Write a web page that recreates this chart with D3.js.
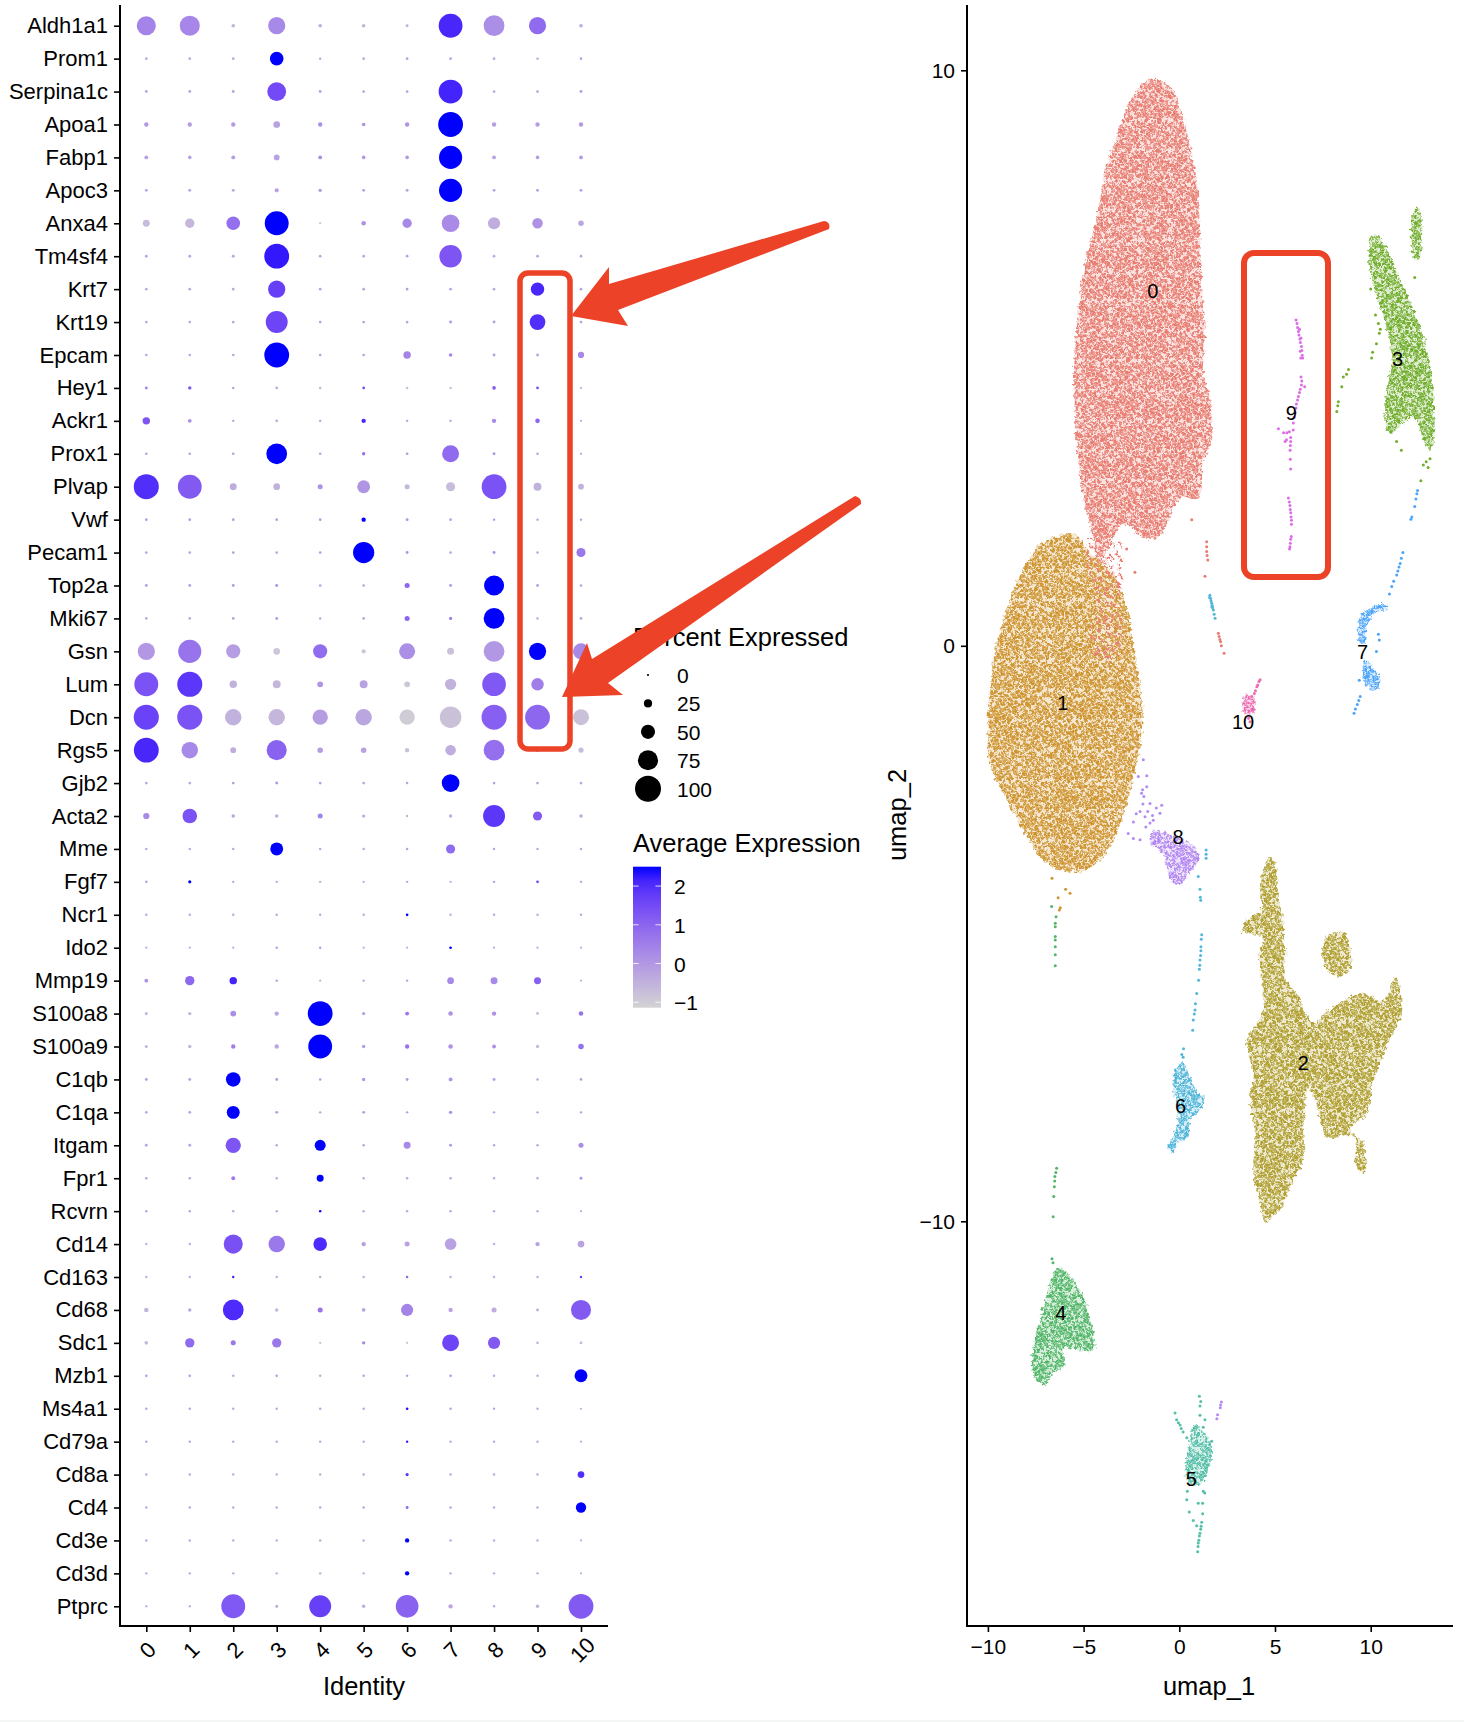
<!DOCTYPE html>
<html><head><meta charset="utf-8">
<script src="https://cdn.jsdelivr.net/npm/d3@7"></script>
<style>
html,body{margin:0;padding:0;background:#fff}
svg{display:block}
text{font-family:"Liberation Sans",Arial,sans-serif;fill:#000}
</style></head><body><div id="chart"></div>
<script>
const identities=["0","1","2","3","4","5","6","7","8","9","10"];
const genes=["Aldh1a1","Prom1","Serpina1c","Apoa1","Fabp1","Apoc3","Anxa4","Tm4sf4","Krt7","Krt19","Epcam","Hey1","Ackr1","Prox1","Plvap","Vwf","Pecam1","Top2a","Mki67","Gsn","Lum","Dcn","Rgs5","Gjb2","Acta2","Mme","Fgf7","Ncr1","Ido2","Mmp19","S100a8","S100a9","C1qb","C1qa","Itgam","Fpr1","Rcvrn","Cd14","Cd163","Cd68","Sdc1","Mzb1","Ms4a1","Cd79a","Cd8a","Cd4","Cd3e","Cd3d","Ptprc"];
const percentExpressed=[
[71,75,6,63,6,6,3,91,78,63,6],[2,2,2,48,1,2,2,2,2,1,2],[3,3,3,70,3,2,2,91,2,2,3],[9,9,9,19,9,6,9,95,9,9,9],[7,6,7,15,7,6,6,88,7,6,7],[3,3,3,8,5,3,3,88,3,3,3],[20,30,48,91,0,10,30,65,42,35,14],[3,3,3,95,2,2,2,85,2,2,2],[2,2,2,63,2,2,2,2,2,47,2],[2,2,2,83,2,2,2,3,3,57,2],[2,2,2,95,2,2,22,6,3,3,17],[3,5,1,2,1,2,1,1,6,2,0],[22,7,1,2,1,9,1,1,9,10,0],[2,2,2,78,2,5,2,62,3,1,0],[96,91,20,19,12,45,12,29,95,24,15],[2,2,2,2,2,9,3,2,1,1,1],[2,2,2,2,2,80,3,2,3,1,29],[3,3,3,3,2,2,12,3,75,3,2],[2,2,2,3,1,2,12,4,78,1,2],[63,88,50,19,50,9,58,20,78,63,58],[91,96,22,24,15,24,15,38,90,43,12],[96,96,60,60,55,60,55,81,96,95,58],[95,60,15,75,14,14,9,35,78,7,12],[2,2,2,3,2,2,1,65,2,2,2],[17,52,5,5,12,4,1,5,83,29,5],[1,1,1,45,1,1,1,29,1,1,1],[2,4,1,1,1,1,1,1,1,2,1],[1,1,1,1,1,1,2,1,1,1,1],[0,0,0,1,1,0,0,2,0,0,0],[7,30,22,1,0,1,1,19,20,20,0],[4,5,15,9,95,5,7,10,9,3,10],[4,5,9,9,91,5,9,10,7,5,14],[3,3,52,3,1,5,3,7,3,1,2],[2,3,45,3,1,3,1,5,1,1,1],[3,3,55,1,37,1,20,3,1,1,12],[2,2,7,1,20,1,1,1,1,1,3],[1,1,1,1,1,1,1,1,1,1,0],[1,1,71,60,48,9,12,40,1,9,19],[1,1,1,1,1,1,1,1,1,1,1],[10,5,78,5,12,6,42,9,12,3,75],[6,30,12,30,0,5,0,62,42,3,3],[2,2,1,2,1,1,1,2,1,1,45],[1,1,1,1,1,1,2,1,1,1,0],[1,1,1,1,1,1,1,1,1,1,0],[1,1,1,1,1,1,4,1,1,1,19],[1,1,1,1,1,1,3,1,1,1,34],[1,1,1,1,1,1,9,1,1,1,0],[1,1,1,1,1,1,9,1,1,1,0],[1,1,91,4,83,5,86,9,1,5,95]];
const averageExpression=[
[0.4,0.35,-0.5,0.3,-0.4,-0.5,-0.5,2.1,0.2,0.9,-0.4],[-0.3,-0.3,-0.3,2.5,-0.2,-0.3,-0.2,-0.2,-0.3,-0.2,-0.2],[-0.3,-0.3,-0.3,1.5,-0.2,-0.2,-0.2,2.15,-0.3,-0.2,-0.1],[0,-0.1,-0.1,-0.2,0.2,0.1,0.1,2.5,-0.1,-0.1,0],[-0.2,-0.2,-0.1,-0.2,0.2,0,0,2.5,-0.2,-0.1,-0.1],[-0.2,-0.2,-0.2,-0.2,0,-0.1,-0.1,2.5,-0.2,-0.1,-0.1],[-0.7,-0.6,0.8,2.5,-0.7,0.1,0.3,0.25,-0.4,0.1,-0.3],[-0.3,-0.3,-0.3,2.3,-0.2,-0.2,-0.2,1.3,-0.3,-0.2,-0.2],[-0.3,-0.3,-0.3,1.7,-0.2,-0.2,-0.1,-0.2,-0.3,2.1,-0.2],[-0.3,-0.3,-0.2,1.6,-0.2,-0.2,-0.2,0,-0.2,2.0,-0.2],[-0.3,-0.3,-0.3,2.5,-0.2,-0.2,0.4,0.3,-0.2,-0.3,0.3],[0.4,1.3,-0.2,-0.3,-0.5,1.5,-0.7,-0.7,1.2,1.5,-0.5],[1.3,0.1,-0.2,-0.3,-0.2,2.1,-0.2,-0.3,0.3,1.0,-0.3],[-0.2,-0.2,-0.2,2.5,-0.3,0.8,-0.1,0.9,0,-0.2,-0.3],[2.0,1.2,-0.4,-0.5,0.1,0.05,-0.6,-0.7,1.35,-0.5,-0.5],[-0.1,-0.1,-0.1,-0.1,-0.1,2.5,0,-0.1,0,-0.2,-0.2],[-0.3,-0.3,-0.1,-0.3,-0.2,2.5,0,-0.3,0.2,-0.2,0.6],[-0.2,-0.2,-0.1,0.1,-0.2,-0.2,1.0,0,2.5,-0.2,-0.2],[-0.3,-0.3,-0.1,-0.1,-0.3,-0.2,1.0,0.6,2.5,-0.3,-0.2],[0,0.7,-0.1,-0.9,0.85,-0.9,0.2,-0.8,0,2.5,0.3],[1.35,1.85,-0.5,-0.6,0.05,-0.2,-0.9,-0.5,1.25,0.5,-0.5],[1.65,1.35,-0.5,-0.6,-0.1,-0.3,-1.0,-0.8,1.1,0.95,-0.8],[2.1,0.3,-0.4,1.05,-0.1,-0.2,-0.8,-0.4,0.8,-0.3,-0.7],[-0.2,-0.3,-0.1,0,-0.1,-0.2,-0.2,2.5,-0.2,-0.2,-0.2],[0.3,1.35,-0.2,-0.4,0.4,-0.3,-0.5,-0.4,1.85,1.2,-0.3],[-0.2,-0.3,-0.3,2.5,-0.3,-0.3,-0.2,0.9,-0.2,-0.2,-0.2],[-0.3,2.5,-0.3,-0.3,-0.4,-0.4,-0.4,-0.5,-0.1,1.6,-0.3],[-0.3,-0.3,-0.3,-0.3,-0.3,-0.3,2.5,-0.4,-0.3,-0.3,-0.3],[-0.4,-0.4,-0.4,-0.1,-0.1,-0.4,-0.4,2.5,-0.4,-0.4,-0.4],[0.1,0.95,2.15,-0.1,-0.5,-0.3,-0.3,0.3,0.3,1.1,-0.5],[-0.6,-0.6,0.2,-0.3,2.5,-0.2,0.7,0.1,0.1,-0.7,0.7],[-0.6,-0.6,0.5,-0.3,2.5,-0.1,0.7,0.1,0.2,-0.7,0.8],[-0.2,-0.2,2.5,-0.1,-0.1,0,-0.1,0.1,-0.1,-0.2,-0.1],[-0.3,-0.3,2.5,-0.1,-0.3,-0.1,-0.2,0.1,-0.2,-0.2,-0.2],[-0.3,-0.3,1.3,-0.3,2.5,-0.2,0.3,0,-0.2,-0.3,0.2],[-0.3,-0.3,0.6,-0.3,2.5,-0.3,-0.3,-0.2,-0.3,-0.3,0.1],[-0.2,-0.2,-0.3,-0.3,2.5,-0.3,-0.3,-0.3,-0.3,-0.3,-0.4],[-0.5,-0.4,1.4,0.6,2.05,-0.1,-0.2,-0.2,-0.4,-0.2,-0.2],[-0.4,-0.4,2.2,-0.4,-0.4,-0.4,1.0,-0.4,-0.4,-0.4,1.6],[-0.6,-0.3,2.05,-0.5,0.7,-0.2,0.4,-0.2,-0.4,-0.4,1.2],[-0.6,0.9,0.6,0.6,-0.6,0.3,-0.7,1.6,1.2,-0.6,-0.6],[-0.2,-0.2,-0.3,-0.2,-0.3,-0.1,-0.2,-0.1,-0.3,-0.3,2.5],[-0.2,-0.2,-0.3,-0.3,-0.3,-0.2,2.4,-0.2,-0.3,-0.3,-0.4],[-0.1,-0.2,-0.3,-0.3,-0.3,-0.2,2.3,-0.3,-0.3,-0.3,-0.4],[-0.3,-0.3,-0.4,-0.4,-0.4,-0.3,1.9,-0.3,-0.3,-0.3,2.0],[-0.3,-0.2,-0.3,-0.3,-0.3,-0.2,0.9,-0.2,-0.3,-0.3,2.5],[-0.3,-0.3,-0.4,-0.4,-0.4,-0.4,2.5,-0.3,-0.4,-0.4,-0.4],[-0.3,-0.3,-0.4,-0.4,-0.4,-0.4,2.5,-0.3,-0.4,-0.4,-0.4],[-0.6,-0.5,1.25,-0.5,1.7,-0.4,1.05,-0.3,-0.3,-0.5,1.2]];
const sizeLegendValues=[0,25,50,75,100];
const colorLegendValues=[2,1,0,-1];
const umapXTicks=[-10,-5,0,5,10];
const umapYTicks=[10,0,-10];
const clusterColors=["#E87D72","#CF9531","#B0A032","#72AE2F","#53B669","#55BFA8","#52B6D9","#4EA5F9","#B48AF2","#DD6DE6","#EC6BB2"];
const region0=[[-1.27,9.85],[-0.4,9.69],[0.04,9.35],[0.47,8.82],[0.91,8.09],[1.08,7.23],[1.17,6.23],[1.34,5.37],[1.25,4.7],[1.6,4.3],[1.6,3.44],[1.25,3.24],[1.0,2.57],[0.04,2.57],[-0.66,2.11],[-1.18,1.87],[-1.97,1.91],[-2.93,2.11],[-3.62,1.77],[-4.15,1.44],[-4.67,2.11],[-5.02,2.57],[-5.28,3.17],[-5.4,3.7],[-5.5,4.83],[-5.28,5.83],[-5.02,6.5],[-4.32,7.43],[-3.79,8.36],[-3.27,8.82],[-2.75,9.35],[-2.05,9.72]];
const region0Stem=[[-3.01,1.78],[-2.93,1.09],[-3.27,0.74],[-2.93,0.33],[-3.27,-0.19],[-4.15,-0.25],[-4.67,0.22],[-4.32,0.8],[-4.84,1.37],[-4.76,1.84],[-4.06,2.07]];
const region1=[[-5.45,1.93],[-7.19,1.78],[-7.89,1.49],[-8.85,0.8],[-9.55,0.04],[-9.9,-0.71],[-10.02,-1.41],[-9.9,-2.04],[-9.11,-2.62],[-8.15,-3.2],[-6.93,-3.78],[-5.19,-3.93],[-3.97,-3.66],[-3.27,-3.26],[-2.58,-2.56],[-2.14,-1.87],[-1.91,-1.23],[-2.05,-0.71],[-2.4,0.04],[-2.75,0.68],[-3.62,1.32],[-4.67,1.61]];
const region2=[[4.7,-3.66],[5.0,-3.78],[5.18,-4.3],[5.44,-4.94],[5.53,-5.34],[5.5,-5.75],[6.14,-6.04],[7.0,-6.56],[7.7,-6.36],[9.45,-6.04],[10.66,-6.16],[11.28,-5.75],[11.57,-6.04],[11.54,-6.45],[10.84,-6.96],[10.14,-7.6],[9.8,-8.12],[8.92,-8.41],[9.62,-8.64],[9.62,-9.17],[9.27,-9.05],[9.1,-8.53],[7.7,-8.53],[7.2,-8.0],[6.75,-7.65],[6.48,-8.36],[6.48,-8.93],[5.79,-9.4],[5.26,-9.8],[4.48,-10.0],[4.13,-9.57],[3.87,-9.11],[3.96,-8.53],[3.7,-7.89],[3.87,-7.43],[3.52,-6.85],[4.39,-6.38],[4.3,-5.92],[4.2,-5.34],[4.31,-5.05],[3.35,-4.99],[3.43,-4.79],[4.22,-4.59],[4.22,-4.19]];
const region2Island=[[7.7,-5.05],[8.57,-4.99],[9.01,-5.52],[8.4,-5.75],[7.53,-5.52]];
const region3=[[10.06,7.13],[10.49,7.09],[11.54,6.36],[12.41,5.7],[13.1,4.9],[13.19,3.44],[12.93,3.44],[12.23,3.97],[11.0,3.7],[10.75,4.24],[11.1,5.03],[10.7,5.7],[10.0,6.43]];
const region3Arm=[[12.41,7.63],[12.67,7.36],[12.49,6.7],[12.23,6.76],[12.15,7.43]];
const region4=[[-6.32,-10.81],[-5.19,-11.2],[-4.5,-11.93],[-4.46,-12.25],[-6.06,-12.22],[-5.97,-12.5],[-6.59,-12.65],[-7.02,-12.87],[-7.63,-12.65],[-7.63,-12.22],[-7.11,-11.5]];
const region5=[[0.82,-13.52],[1.25,-13.66],[1.69,-13.9],[1.43,-14.39],[0.98,-14.6],[0.42,-14.51],[0.35,-14.15],[0.6,-13.73]];
const region6=[[0.12,-7.25],[0.56,-7.49],[0.91,-7.72],[1.34,-7.88],[0.99,-8.12],[0.56,-8.24],[0.47,-8.53],[-0.14,-8.67],[-0.28,-8.82],[-0.63,-8.73],[-0.4,-8.56],[-0.05,-8.24],[-0.14,-7.95],[-0.35,-7.66],[-0.22,-7.37]];
const region7Crescent=[[9.8,0.62],[10.66,0.74],[10.84,0.65],[10.14,0.54],[9.71,0.22],[9.8,0.04],[9.41,0.04],[9.31,0.27],[9.53,0.56]];
const region7Blob=[[9.71,-0.25],[10.23,-0.42],[10.53,-0.65],[10.23,-0.77],[9.76,-0.68],[9.59,-0.42]];
const region8=[[-1.36,-3.2],[-0.66,-3.26],[0.56,-3.43],[0.99,-3.61],[0.99,-3.75],[0.39,-4.01],[0.12,-4.13],[-0.4,-4.1],[-0.66,-3.84],[-0.84,-3.61],[-1.53,-3.4]];
const region10=[[3.43,-0.85],[3.9,-0.88],[3.87,-1.17],[3.35,-1.17]];
const points0=[[0.65,2.19],[-2.32,1.28],[-2.75,1.68],[1.43,1.81],[1.43,1.72],[1.43,1.64],[1.45,1.57],[1.49,1.49],[1.34,1.21],[2.04,0.22],[2.08,0.16],[2.12,0.11],[2.16,0.07],[2.2,0.0],[2.34,-0.13]];
const points1=[[-6.65,-4.04],[-5.94,-4.23],[-5.71,-4.3],[-6.33,-4.38],[-6.27,-4.59],[-6.22,-4.55]];
const points3=[[8.84,4.8],[8.74,4.72],[8.57,4.67],[8.49,4.5],[8.31,4.24],[8.28,4.17],[8.23,4.07],[12.62,2.87],[12.75,3.14],[10.62,6.0],[10.5,5.5],[10.45,5.43],[10.7,5.8],[12.3,6.4],[11.6,3.4],[11.35,3.55],[12.9,3.2],[13.1,3.25],[13.0,3.1],[10.3,5.25],[10.1,5.1],[10.05,5.0],[10.4,5.6],[10.25,5.75],[10.0,6.2]];
const points4=[[-6.67,-4.53],[-6.44,-4.71],[-6.48,-4.82],[-6.48,-4.88],[-6.48,-5.05],[-6.48,-5.11],[-6.48,-5.23],[-6.48,-5.37],[-6.48,-5.56],[-6.41,-9.08],[-6.45,-9.15],[-6.5,-9.22],[-6.51,-9.3],[-6.53,-9.4],[-6.56,-9.57],[-6.59,-9.92],[-6.65,-10.65],[-6.6,-10.72]];
const points5=[[1.05,-13.04],[1.12,-13.13],[1.08,-13.21],[1.08,-13.37],[-0.22,-13.33],[-0.14,-13.45],[0.04,-13.54],[-0.05,-13.5],[0.1,-13.6],[0.2,-13.66],[0.39,-13.76],[1.34,-13.45],[1.25,-13.58],[1.69,-13.82],[0.42,-14.69],[0.39,-14.84],[0.52,-15.05],[1.25,-14.69],[1.33,-14.72],[1.22,-14.9],[0.99,-14.9],[1.22,-15.08],[1.17,-15.23],[1.14,-15.3],[1.12,-15.35],[1.08,-15.42],[1.05,-15.47],[1.02,-15.54],[0.99,-15.59],[0.98,-15.65],[0.96,-15.74],[0.73,-15.2],[0.91,-15.29]];
const points6=[[1.6,0.88],[1.64,0.82],[1.66,0.78],[1.69,0.74],[1.72,0.7],[1.74,0.66],[1.78,0.62],[1.82,0.55],[1.87,0.48],[1.58,0.84],[1.7,0.68],[0.99,-4.01],[1.08,-4.23],[1.12,-4.42],[1.1,-4.37],[1.4,-3.55],[1.4,-3.62],[1.4,-3.69],[1.17,-5.02],[1.15,-5.1],[1.13,-5.23],[1.13,-5.3],[1.11,-5.38],[1.08,-5.46],[1.07,-5.55],[1.05,-5.62],[1.01,-5.81],[0.91,-6.04],[0.84,-6.22],[0.82,-6.33],[0.78,-6.4],[0.73,-6.5],[0.7,-6.68],[0.13,-7.1],[0.22,-7.0],[0.2,-7.15]];
const points7=[[10.98,0.9],[11.1,1.03],[11.2,1.12],[11.36,1.23],[11.42,1.3],[11.48,1.37],[11.54,1.43],[11.6,1.52],[11.68,1.62],[9.45,-0.88],[9.38,-0.95],[9.3,-1.02],[9.2,-1.1],[9.13,-1.17],[12.15,2.24],[12.1,2.2],[12.3,2.42],[12.36,2.55],[12.41,2.64],[12.45,2.7],[10.4,0.2],[10.45,0.1],[10.3,-0.1],[9.7,-0.55],[9.4,-0.6]];
const points8=[[-2.14,-2.27],[-1.7,-2.26],[-1.97,-2.56],[-1.7,-2.45],[-1.53,-2.74],[-0.92,-2.77],[-2.05,-2.88],[-1.79,-2.97],[-1.01,-2.91],[-1.53,-3.08],[-2.4,-3.06],[-2.67,-3.26],[-2.4,-3.35],[-2.05,-3.37],[-1.36,-3.03],[-1.88,-1.98],[-1.92,-2.5],[-1.85,-2.62],[-1.65,-2.88],[-1.9,-2.75],[-1.4,-2.95],[-1.2,-2.82],[-2.25,-2.92],[-1.75,-3.15],[2.16,-13.19],[2.2,-13.14],[2.14,-13.24],[1.96,-13.43],[2.0,-13.36]];
const points9=[[6.1,5.66],[6.15,5.6],[6.18,5.53],[6.22,5.46],[6.25,5.4],[6.3,5.33],[6.33,5.27],[6.38,5.2],[6.4,5.13],[6.42,5.05],[6.35,5.0],[6.45,5.0],[6.28,5.5],[6.36,5.35],[6.32,5.12],[6.36,4.67],[6.4,4.6],[6.38,4.53],[6.55,4.5],[6.32,4.46],[6.28,4.4],[6.22,4.33],[6.18,4.27],[6.12,4.2],[6.1,4.13],[6.05,4.05],[6.0,3.97],[5.96,3.87],[5.18,3.77],[5.45,3.7],[5.62,3.7],[5.75,3.72],[5.95,3.75],[5.53,3.55],[5.6,3.58],[5.82,3.62],[5.82,3.55],[5.8,3.48],[5.79,3.4],[5.8,3.24],[5.82,3.07],[5.7,2.57],[5.75,2.5],[5.78,2.44],[5.8,2.37],[5.82,2.31],[5.84,2.24],[5.86,2.18],[5.86,2.11],[5.85,1.9],[5.82,1.85],[5.8,1.78],[5.78,1.72],[5.76,1.68]];
const points10=[[4.22,-0.59],[4.16,-0.62],[4.1,-0.68],[4.05,-0.71],[3.98,-0.78],[3.92,-0.83],[3.78,-0.88],[3.7,-1.32],[3.62,-1.26]];
const clusterRegions=[[region0],[region1],[region2,region2Island],[region3,region3Arm],[region4],[region5],[region6],[region7Crescent,region7Blob],[region8],[],[region10]];
const clusterPoints=[points0,points1,[],points3,points4,points5,points6,points7,points8,points9,points10];
const drawOrder=[1,0,2,3,4,5,6,7,8,9,10];
const clusterLabelX=[-1.38,-6.08,6.48,11.41,-6.19,0.63,0.06,9.58,-0.06,5.85,3.33];
const clusterLabelY=[6.16,-0.99,-7.25,4.98,-11.6,-14.47,-8.0,-0.1,-3.32,4.05,-1.32];
const stippleTile=[[2,3],[6,1],[10,4],[14,2],[19,1],[23,4],[27,2],[1,7],[5,6],[8,9],[12,7],[16,6],[20,8],[25,7],[29,6],[3,11],[7,13],[11,11],[15,10],[18,13],[22,11],[26,12],[1,15],[5,17],[9,16],[13,14],[17,17],[21,15],[24,17],[28,15],[2,20],[6,21],[11,20],[15,19],[19,21],[23,20],[27,19],[4,24],[8,25],[12,23],[16,24],[20,25],[25,23],[29,24],[1,27],[6,28],[10,28],[14,27],[18,29],[22,28],[27,27]];

const W=1464,H=1722;
const svg=d3.select("#chart").append("svg").attr("width",W).attr("height",H);
const defs=svg.append("defs");
svg.append("rect").attr("width",W).attr("height",H).attr("fill","#fff");
svg.append("rect").attr("y",H-2).attr("width",W).attr("height",2).attr("fill","#f4f5f5");

// ---- dot plot ----
const xDot=d3.scalePoint().domain(identities).range([146.3,581]);
const yDot=d3.scalePoint().domain(genes).range([25.7,1606.3]);
const radius=d3.scaleLinear().domain([0,100]).range([1.1,13]);
const color=d3.scaleLinear().domain([-1.14,2.5]).range(["#d3d3d3","#0000ff"]).interpolate(d3.interpolateLab).clamp(true);
const dot=svg.append("g");
const rows=genes.flatMap((g,i)=>identities.map((id,j)=>({g,id,p:percentExpressed[i][j],a:averageExpression[i][j]})));
dot.selectAll("circle").data(rows).join("circle").attr("cx",d=>xDot(d.id)).attr("cy",d=>yDot(d.g)).attr("r",d=>radius(d.p)).attr("fill",d=>color(d.a));
function styleAxis(g,fs){g.select(".domain").remove();g.selectAll("line").attr("stroke","#000").attr("stroke-width",1.6);g.selectAll("text").attr("font-size",fs).attr("fill","#000");}
const dyAx=svg.append("g").attr("transform","translate(120,0)").call(d3.axisLeft(yDot).tickSize(6).tickPadding(6));
styleAxis(dyAx,22);
const dxAx=svg.append("g").attr("transform","translate(0,1626)").call(d3.axisBottom(xDot).tickSize(6).tickPadding(8));
styleAxis(dxAx,22);
dxAx.selectAll("text").attr("text-anchor","middle").attr("dy",0).attr("y",0).attr("transform","translate(1,24) rotate(-45)").attr("dominant-baseline","central");
svg.append("path").attr("d","M120,5V1626H608").attr("fill","none").attr("stroke","#000").attr("stroke-width",2);
svg.append("text").attr("x",364).attr("y",1695).attr("text-anchor","middle").attr("font-size",25.5).text("Identity");

// ---- legends ----
const sizeY=d3.scalePoint().domain(sizeLegendValues).range([675,788.7]);
svg.append("text").attr("x",633).attr("y",646).attr("font-size",25.5).text("Percent Expressed");
const sl=svg.append("g");
sl.selectAll("circle").data(sizeLegendValues).join("circle").attr("cx",648).attr("cy",d=>sizeY(d)).attr("r",d=>radius(d)).attr("fill","#000");
sl.selectAll("text").data(sizeLegendValues).join("text").attr("x",677).attr("y",d=>sizeY(d)+8).attr("font-size",21).text(d=>d);
svg.append("text").attr("x",633).attr("y",852).attr("font-size",25.5).text("Average Expression");
const cbY=d3.scaleLinear().domain([-1.14,2.5]).range([1007.7,866.7]);
const grad=defs.append("linearGradient").attr("id","cb").attr("x1",0).attr("x2",0).attr("y1",1).attr("y2",0);
d3.range(0,1.0001,0.1).forEach(t=>grad.append("stop").attr("offset",t).attr("stop-color",color(-1.14+t*3.64)));
svg.append("rect").attr("x",633).attr("y",866.7).attr("width",28).attr("height",141).attr("fill","url(#cb)");
const cl=svg.append("g");
colorLegendValues.forEach(v=>{
  [[633,638.6],[655.4,661]].forEach(s=>cl.append("line").attr("x1",s[0]).attr("x2",s[1]).attr("y1",cbY(v)).attr("y2",cbY(v)).attr("stroke","#fff").attr("stroke-width",1).attr("opacity",.8));
  cl.append("text").attr("x",674).attr("y",cbY(v)+8).attr("font-size",21).text(String(v).replace("-","\u2212"));
});

// ---- UMAP ----
const xU=d3.scaleLinear().domain([-10,10]).range([987.9,1370.7]);
const yU=d3.scaleLinear().domain([10,-10]).range([70.3,1221.3]);
const plot=svg.append("g");
// Texture only: roughens the outline and stipple of the dense cluster regions.
const rough=defs.append("filter").attr("id","rough").attr("filterUnits","userSpaceOnUse").attr("x",960).attr("y",0).attr("width",504).attr("height",1640);
rough.append("feTurbulence").attr("type","fractalNoise").attr("baseFrequency",0.28).attr("numOctaves",2).attr("seed",4).attr("result","n");
rough.append("feDisplacementMap").attr("in","SourceGraphic").attr("in2","n").attr("scale",7).attr("xChannelSelector","R").attr("yChannelSelector","G");
function makePattern(id,c,bg,r,tile){
  const p=defs.append("pattern").attr("id",id).attr("patternUnits","userSpaceOnUse").attr("width",30).attr("height",30);
  p.append("rect").attr("width",30).attr("height",30).attr("fill",c).attr("opacity",bg);
  p.selectAll("circle").data(tile).join("circle").attr("cx",d=>d[0]).attr("cy",d=>d[1]).attr("r",r).attr("fill",c);
}
clusterColors.forEach((c,i)=>makePattern("st"+i,c,.22,1.85,stippleTile));
makePattern("stem",clusterColors[0],0,1.5,stippleTile.filter((d,i)=>i%2===0));
const poly=d3.line().x(d=>xU(d[0])).y(d=>yU(d[1])).curve(d3.curveCatmullRomClosed.alpha(.5));
drawOrder.forEach(i=>{
  const g=plot.append("g");
  g.append("g").attr("filter","url(#rough)").selectAll("path").data(clusterRegions[i]).join("path").attr("d",poly).attr("fill",`url(#st${i})`);
  if(i===1) g.append("g").attr("filter","url(#rough)").append("path").datum(region0Stem).attr("d",poly).attr("fill","url(#stem)");
  g.selectAll("circle").data(clusterPoints[i]).join("circle").attr("cx",d=>xU(d[0])).attr("cy",d=>yU(d[1])).attr("r",1.5).attr("fill",clusterColors[i]);
});
const uxAx=svg.append("g").attr("transform","translate(0,1626)").call(d3.axisBottom(xU).tickValues(umapXTicks).tickSize(6).tickPadding(7).tickFormat(d=>String(d).replace("-","\u2212")));
styleAxis(uxAx,21);
const uyAx=svg.append("g").attr("transform","translate(967,0)").call(d3.axisLeft(yU).tickValues(umapYTicks).tickSize(6).tickPadding(6).tickFormat(d=>String(d).replace("-","\u2212")));
styleAxis(uyAx,21);
svg.append("path").attr("d","M967,5V1626H1453").attr("fill","none").attr("stroke","#000").attr("stroke-width",2);
svg.append("text").attr("x",1209).attr("y",1695).attr("text-anchor","middle").attr("font-size",25.5).text("umap_1");
svg.append("text").attr("transform","translate(906,815) rotate(-90)").attr("text-anchor","middle").attr("font-size",25.5).text("umap_2");
identities.forEach((id,i)=>svg.append("text").attr("x",xU(clusterLabelX[i])).attr("y",yU(clusterLabelY[i])).attr("text-anchor","middle").attr("dominant-baseline","central").attr("font-size",20).text(id));

// ---- red annotations ----
const red="#EC4227";
const anno=svg.append("g");
anno.append("rect").attr("x",520).attr("y",273).attr("width",50).attr("height",476).attr("rx",8).attr("fill","none").attr("stroke",red).attr("stroke-width",5.5);
anno.append("rect").attr("x",1244).attr("y",253).attr("width",84).attr("height",324).attr("rx",10).attr("fill","none").attr("stroke",red).attr("stroke-width",6);
anno.append("path").attr("d","M571,316L609,267L609,284L824,221Q831,222 829,229L618,310L628,326Z").attr("fill",red);
anno.append("path").attr("d","M562,697L587,643L592,659L855,496Q862,498 861,504L608,683L623,695Z").attr("fill",red);
</script></body></html>
